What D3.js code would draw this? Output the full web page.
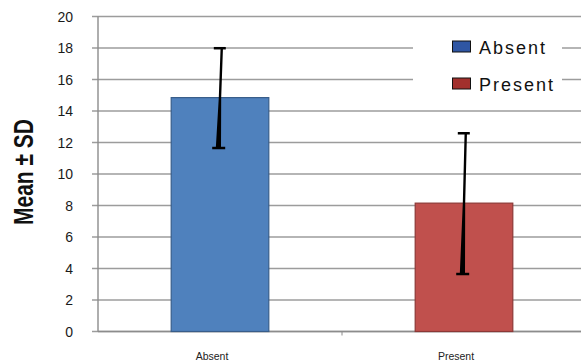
<!DOCTYPE html>
<html>
<head>
<meta charset="utf-8">
<script src="https://cdn.jsdelivr.net/npm/d3@7"></script>
<style>
  html, body { margin: 0; padding: 0; background: #fff; }
  svg { display: block; }
</style>
</head>
<body>
<svg id="chart"></svg>
<script>
// bar chart with SD error bars — Absent vs Present

const categories = ['Absent', 'Present'];
const means      = [14.85, 8.15];
const sds        = [3.2, 4.5];
const yTicks     = [0, 2, 4, 6, 8, 10, 12, 14, 16, 18, 20];

const BAR_FILL    = { Absent: '#4f81bd', Present: '#c0504d' };
const BAR_STROKE  = { Absent: '#385d8a', Present: '#8c3836' };
const LEGEND_FILL = { Absent: '#2f56a3', Present: '#a2302d' };

const W = 581, H = 363;

const svg = d3.select('#chart').attr('width', W).attr('height', H);

// ── Scales ────────────────────────────────────────────────────────────────
const x = d3.scaleBand()
    .domain(categories)
    .range([98, 586])
    .paddingInner(0.6)
    .paddingOuter(0.3);

const xStep = d3.scaleBand().domain(categories).range([98, 586]);

const y = d3.scaleLinear().domain([0, 20]).range([331.5, 16.5]);

// ── Gridlines + y ticks ──────────────────────────────────────────────────
svg.append('g')
    .selectAll('line')
    .data(yTicks)
    .join('line')
    .attr('x1', 92).attr('x2', W)
    .attr('y1', d => y(d)).attr('y2', d => y(d))
    .attr('stroke', '#9c9c9c')
    .attr('stroke-width', 1.4);

svg.append('g')
    .selectAll('text')
    .data(yTicks)
    .join('text')
    .attr('x', 73)
    .attr('y', d => y(d))
    .attr('dy', '0.36em')
    .attr('text-anchor', 'end')
    .attr('font-family', 'Liberation Sans Narrow, Liberation Sans, Arial, sans-serif')
    .attr('font-size', '14px')
    .attr('fill', '#1a1a1a')
    .text(d => d);

// axes
svg.append('line')
    .attr('x1', 98).attr('x2', 98)
    .attr('y1', y(20)).attr('y2', y(0))
    .attr('stroke', '#8c8c8c').attr('stroke-width', 1.4);

svg.append('line')
    .attr('x1', 98).attr('x2', W)
    .attr('y1', y(0)).attr('y2', y(0))
    .attr('stroke', '#8c8c8c').attr('stroke-width', 1.4);

svg.append('g')
    .selectAll('line')
    .data(categories.slice(1))
    .join('line')
    .attr('x1', d => xStep(d)).attr('x2', d => xStep(d))
    .attr('y1', y(0)).attr('y2', y(0) + 4)
    .attr('stroke', '#8c8c8c').attr('stroke-width', 1);

// ── Bars ─────────────────────────────────────────────────────────────────
svg.append('g')
    .selectAll('rect')
    .data(categories)
    .join('rect')
    .attr('x', d => x(d))
    .attr('y', (d, i) => y(means[i]))
    .attr('width', x.bandwidth())
    .attr('height', (d, i) => y(0) - y(means[i]))
    .attr('fill', d => BAR_FILL[d])
    .attr('stroke', d => BAR_STROKE[d])
    .attr('stroke-width', 1.2);

// ── Error bars (slightly slanted, tapered, like the original) ───────────
const errG = svg.append('g');
categories.forEach((c, i) => {
    const cx = x(c) + x.bandwidth() / 2;
    const yTop = y(means[i] + sds[i]);
    const yBot = y(means[i] - sds[i]);
    const yMid = y(means[i]);
    const tx = cx + 1.8, bx = cx - 1.8;
    // taper: thin above the bar, thick towards bottom
    const pts = [
        [tx - 1.2, yTop], [tx + 1.2, yTop],
        [cx + 1.2, yMid], [bx + 2.8, yBot],
        [bx - 2.4, yBot], [cx - 1.2, yMid]
    ];
    errG.append('polygon')
        .attr('points', pts.map(p => p.join(',')).join(' '))
        .attr('fill', '#000');
    errG.append('line')
        .attr('x1', tx - 8).attr('x2', tx + 4)
        .attr('y1', yTop + 1).attr('y2', yTop + 1)
        .attr('stroke', '#000').attr('stroke-width', 2.5);
    errG.append('line')
        .attr('x1', bx - 6).attr('x2', bx + 7)
        .attr('y1', yBot).attr('y2', yBot)
        .attr('stroke', '#000').attr('stroke-width', 2.5);
});

// ── Category labels ──────────────────────────────────────────────────────
svg.append('g')
    .selectAll('text')
    .data(categories)
    .join('text')
    .attr('x', d => x(d) + x.bandwidth() / 2 - 8)
    .attr('y', 360)
    .attr('text-anchor', 'middle')
    .attr('font-family', 'Liberation Sans, Arial, sans-serif')
    .attr('font-size', '10.5px')
    .attr('fill', '#222')
    .text(d => d);

// ── Y label ──────────────────────────────────────────────────────────────
svg.append('text')
    .attr('transform', 'translate(33, 172) rotate(-90) scale(1, 1.32)')
    .attr('text-anchor', 'middle')
    .attr('font-family', 'Liberation Sans, Arial, sans-serif')
    .attr('font-weight', 'bold')
    .attr('font-size', '21px')
    .attr('fill', '#111')
    .text('Mean ± SD');

// ── Legend ───────────────────────────────────────────────────────────────
const legendG = svg.append('g');
legendG.append('rect')
    .attr('x', 413).attr('y', 28).attr('width', 149).attr('height', 72)
    .attr('fill', '#fff');
categories.forEach((c, i) => {
    const ly = 47 + i * 37;
    legendG.append('rect')
        .attr('x', 452.5).attr('y', ly - 6).attr('width', 18).attr('height', 11)
        .attr('fill', LEGEND_FILL[c])
        .attr('stroke', '#111').attr('stroke-width', 1);
    legendG.append('text')
        .attr('x', 479).attr('y', ly + 1)
        .attr('dy', '0.35em')
        .attr('font-family', 'Liberation Sans, Arial, sans-serif')
        .attr('font-size', '18px')
        .attr('letter-spacing', '2px')
        .attr('fill', '#111')
        .text(c);
});
</script>
</body>
</html>
